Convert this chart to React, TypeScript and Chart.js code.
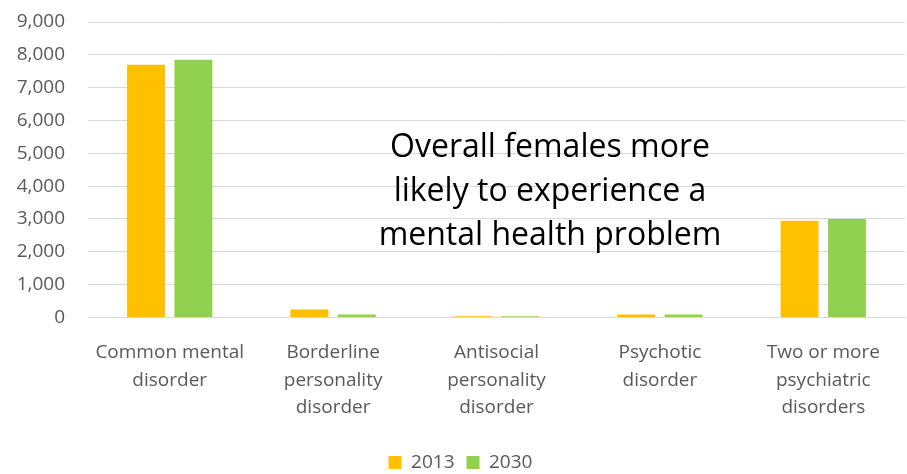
import React, { useEffect, useRef } from "react";
import { Chart, registerables } from "chart.js";

Chart.register(...registerables);

const categories: string[][] = [
  ["Common mental", "disorder"],
  ["Borderline", "personality", "disorder"],
  ["Antisocial", "personality", "disorder"],
  ["Psychotic", "disorder"],
  ["Two or more", "psychiatric", "disorders"],
];
const values2013 = [7700, 240, 40, 90, 2950];
const values2030 = [7850, 90, 40, 90, 3000];
const yTicksMax = 9000;
const annotation = ["Overall females more", "likely to experience a", "mental health problem"];

const FONT = "'Open Sans', 'DejaVu Sans', sans-serif";

export default function App() {
  const ref = useRef<HTMLCanvasElement | null>(null);
  useEffect(() => {
    document.body.style.margin = "0";
    if (!ref.current) return;
    const chart = new Chart(ref.current, {
      type: "bar",
      data: {
        labels: categories,
        datasets: [
          { label: "2013", data: values2013, backgroundColor: "#FFC000" },
          { label: "2030", data: values2030, backgroundColor: "#92D050" },
        ],
      },
      options: {
        animation: false,
        responsive: false,
        maintainAspectRatio: false,
        layout: { padding: { top: 22, right: 2, left: 16, bottom: -8 } },
        datasets: { bar: { categoryPercentage: 0.58, barPercentage: 0.8 } } as any,
        plugins: {
          legend: {
            position: "bottom",
            labels: {
              boxWidth: 13,
              boxHeight: 13,
              color: "#595959",
              font: { family: FONT, size: 19 },
              padding: 12,
            },
          },
          tooltip: { enabled: false },
        },
        scales: {
          x: {
            grid: { display: false, drawTicks: false },
            border: { color: "#d9d9d9" },
            ticks: {
              color: "#595959",
              font: { family: FONT, size: 19, lineHeight: 1.43 },
              padding: 22,
              maxRotation: 0,
              autoSkip: false,
            },
            afterFit: (s: any) => {
              s.paddingLeft = 0;
              s.paddingRight = 0;
              s.height -= 2;
            },
          },
          y: {
            min: 0,
            max: yTicksMax,
            grid: { color: "#d9d9d9", drawTicks: false },
            border: { display: false },
            ticks: {
              stepSize: 1000,
              color: "#595959",
              font: { family: FONT, size: 19 },
              padding: 23,
              callback: (v: any) => Number(v).toLocaleString("en-US"),
            },
            afterFit: (s: any) => {
              s.paddingTop = 0;
              s.paddingBottom = 0;
              s.width = 72;
            },
          },
        },
      },
    });
    return () => chart.destroy();
  }, []);
  return (
    <div style={{ position: "relative", width: 907, height: 474 }}>
      <canvas ref={ref} width={907} height={474} />
      <div
        style={{
          position: "absolute",
          left: 350,
          top: 123,
          width: 400,
          textAlign: "center",
          fontFamily: FONT,
          fontSize: 32,
          lineHeight: "44px",
          color: "#000",
        }}
      >
        {annotation.map((l, i) => (
          <div key={i}>{l}</div>
        ))}
      </div>
    </div>
  );
}
